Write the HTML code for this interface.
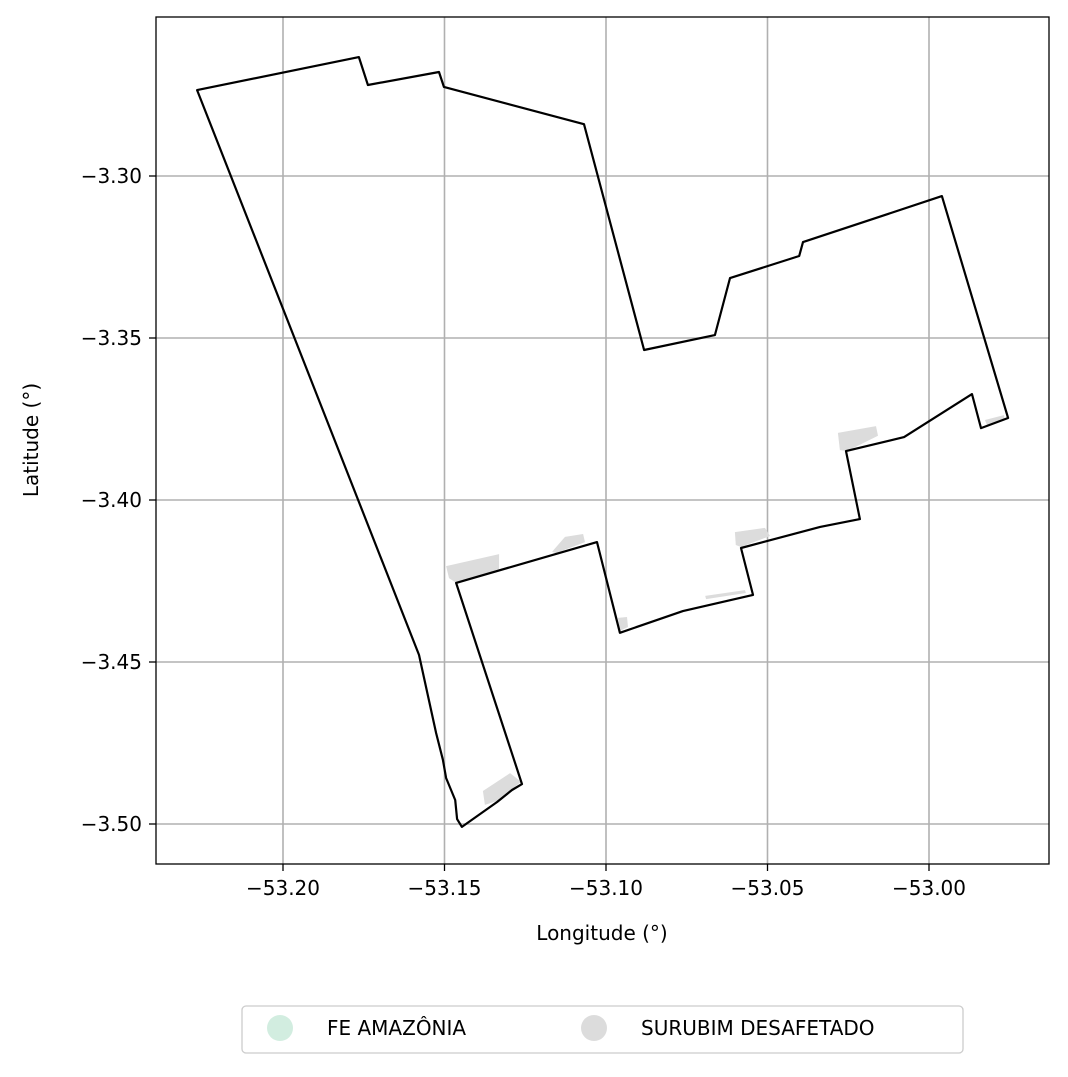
<!DOCTYPE html>
<html><head><meta charset="utf-8"><style>
html,body{margin:0;padding:0;background:#fff;}
svg text{font-family:"DejaVu Sans","Liberation Sans",sans-serif;fill:#000;}
</style></head><body>
<svg id="chart" width="1068" height="1072" viewBox="0 0 1068 1072" xmlns="http://www.w3.org/2000/svg">
<rect x="0" y="0" width="1068" height="1072" fill="#fff"/>
<g id="grid"></g>
<g id="patches"></g>
<g id="outline"></g>
<rect x="156" y="17" width="893" height="847" fill="none" stroke="#000" stroke-width="1.3"/>
<g id="xticks"></g>
<g id="yticks"></g>
<text x="602" y="940" font-size="20" text-anchor="middle">Longitude (°)</text>
<text x="0" y="0" font-size="20" text-anchor="middle" transform="translate(38,440) rotate(-90)">Latitude (°)</text>
<g>
<rect x="242" y="1006" width="721" height="47" rx="4" fill="#fff" stroke="#ccc" stroke-width="1.3"/>
<circle cx="280" cy="1028" r="13" fill="#d2ede0"/>
<text x="327" y="1035" font-size="20">FE AMAZÔNIA</text>
<circle cx="594" cy="1028" r="13" fill="#dcdcdc"/>
<text x="641" y="1035" font-size="20">SURUBIM DESAFETADO</text>
</g>
</svg>
<script>
const xTicks = [-53.20, -53.15, -53.10, -53.05, -53.00];
const xTickLabels = ["\u221253.20", "\u221253.15", "\u221253.10", "\u221253.05", "\u221253.00"];
const yTicks = [-3.30, -3.35, -3.40, -3.45, -3.50];
const yTickLabels = ["\u22123.30", "\u22123.35", "\u22123.40", "\u22123.45", "\u22123.50"];
const outlineLon = [-53.2266,-53.1765,-53.1737,-53.1517,-53.1502,-53.1068,-53.0882,-53.0663,-53.0616,-53.0402,-53.0390,-52.9960,-52.9755,-52.9839,-52.9867,-53.0077,-53.0257,-53.0214,-53.0337,-53.0582,-53.0545,-53.0762,-53.0957,-53.1028,-53.1464,-53.1260,-53.1291,-53.1337,-53.1446,-53.1461,-53.1467,-53.1495,-53.1505,-53.1526,-53.1579];
const outlineLat = [-3.2735,-3.2633,-3.2719,-3.2679,-3.2725,-3.2840,-3.3537,-3.3491,-3.3315,-3.3247,-3.3204,-3.3062,-3.3747,-3.3778,-3.3673,-3.3806,-3.3849,-3.4059,-3.4083,-3.4148,-3.4293,-3.4343,-3.4410,-3.4130,-3.4256,-3.4877,-3.4895,-3.4932,-3.5009,-3.4985,-3.4926,-3.4858,-3.4802,-3.4719,-3.4478];
const patchLons = [
 [-53.1495,-53.1331,-53.1331,-53.1464,-53.1486],
 [-53.1167,-53.1127,-53.1071,-53.1065,-53.1155],
 [-53.0963,-53.0935,-53.0932,-53.0957],
 [-53.0601,-53.0508,-53.0492,-53.0582,-53.0598],
 [-53.0282,-53.0164,-53.0158,-53.0254,-53.0276],
 [-53.1381,-53.1297,-53.1263,-53.1337,-53.1375],
 [-53.0693,-53.0570,-53.0567,-53.0690],
 [-52.9827,-52.9768,-52.9765,-52.9820]
];
const patchLats = [
 [-3.4204,-3.4167,-3.4213,-3.4256,-3.4241],
 [-3.4160,-3.4114,-3.4105,-3.4130,-3.4164],
 [-3.4364,-3.4361,-3.4392,-3.4404],
 [-3.4099,-3.4086,-3.4111,-3.4145,-3.4139],
 [-3.3793,-3.3772,-3.3802,-3.3849,-3.3846],
 [-3.4898,-3.4843,-3.4870,-3.4929,-3.4941],
 [-3.4296,-3.4278,-3.4287,-3.4306],
 [-3.3753,-3.3738,-3.3753,-3.3769]
];
const NS = "http://www.w3.org/2000/svg";
function xScale(lon){ return 283 + (lon + 53.20) * 3230; }
function yScale(lat){ return 176 + (-3.30 - lat) * 3240; }
function mk(tag, attrs, parent){ const e = document.createElementNS(NS, tag); for (const k in attrs) e.setAttribute(k, attrs[k]); parent.appendChild(e); return e; }
const grid = document.getElementById('grid');
const xg = document.getElementById('xticks');
const yg = document.getElementById('yticks');
xTicks.forEach((v,i)=>{
  const x = xScale(v);
  const gl = mk('line',{x1:x,x2:x,y1:17,y2:864,stroke:'#b0b0b0','stroke-width':1.6},grid);
  
  
  const t = mk('line',{x1:x,x2:x,y1:864,y2:871,stroke:'#000','stroke-width':1.3},xg);
  
  
  const l = mk('text',{x:x,y:895,'font-size':20,'text-anchor':'middle'},xg);
  l.textContent = xTickLabels[i];
  
  
});
yTicks.forEach((v,i)=>{
  const y = yScale(v);
  const gl = mk('line',{x1:156,x2:1049,y1:y,y2:y,stroke:'#b0b0b0','stroke-width':1.6},grid);
  
  
  const t = mk('line',{x1:149,x2:156,y1:y,y2:y,stroke:'#000','stroke-width':1.3},yg);
  
  
  const l = mk('text',{x:142,y:y+7,'font-size':20,'text-anchor':'end'},yg);
  l.textContent = yTickLabels[i];
  
  
});
const pg = document.getElementById('patches');
patchLons.forEach((lons,i)=>{
  const pts = lons.map((lo,j)=>xScale(lo).toFixed(1)+','+yScale(patchLats[i][j]).toFixed(1)).join(' ');
  const p = mk('polygon',{points:pts,fill:'#dcdcdc'},pg);
  
  
});
const og = document.getElementById('outline');
const opts = outlineLon.map((lo,j)=>xScale(lo).toFixed(1)+','+yScale(outlineLat[j]).toFixed(1)).join(' ');
const op = mk('polygon',{points:opts,fill:'none',stroke:'#000','stroke-width':2.2,'stroke-linejoin':'round'},og);


</script>
</body></html>
